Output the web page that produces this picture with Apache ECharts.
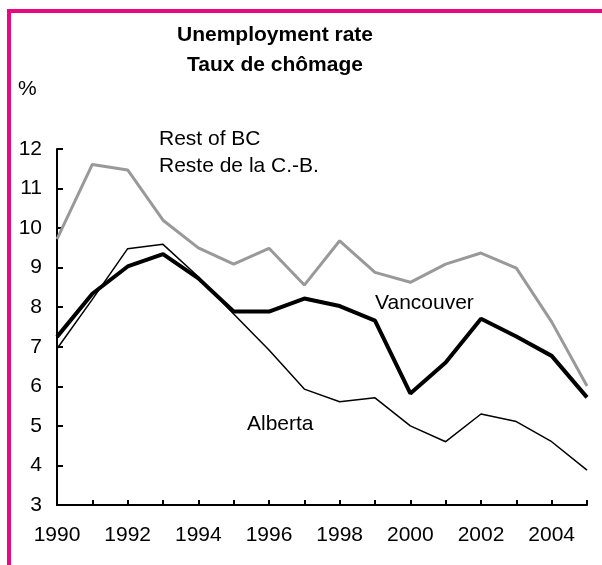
<!DOCTYPE html>
<html lang="en">
<head>
    <meta charset="UTF-8">
    <title>Unemployment rate</title>
    <script src="https://cdn.jsdelivr.net/npm/echarts@6/dist/echarts.min.js"></script>
    <style>
        html, body { margin: 0; padding: 0; background: #fff; }
        #chart { width: 602px; height: 565px; }
    </style>
</head>
<body>
<div id="chart"></div>
<script type="text/javascript">
    // data
    var years = ['1990', '1991', '1992', '1993', '1994', '1995', '1996', '1997',
        '1998', '1999', '2000', '2001', '2002', '2003', '2004', '2005'];
    var restOfBC = [9.72, 11.61, 11.47, 10.2, 9.5, 9.09, 9.49, 8.56, 9.68, 8.88, 8.63, 9.09, 9.37, 8.99, 7.63, 6.01];
    var vancouver = [7.25, 8.34, 9.03, 9.34, 8.73, 7.89, 7.89, 8.22, 8.03, 7.66, 5.82, 6.6, 7.71, 7.26, 6.77, 5.72];
    var alberta = [6.95, 8.2, 9.48, 9.59, 8.77, 7.83, 6.92, 5.93, 5.61, 5.71, 5.0, 4.6, 5.3, 5.11, 4.6, 3.88];

    var font = 'Liberation Sans, Arial, sans-serif';
    var pink = '#e6097f';

    function label(text, x, y, bold) {
        return {
            type: 'text', x: x, y: y,
            style: {
                text: text, fill: '#000', font: (bold ? 'bold ' : '') + '21px ' + font,
                textAlign: 'left', textVerticalAlign: 'middle'
            }
        };
    }

    var option = {
        animation: false,
        grid: { left: 57, right: 15, top: 149, bottom: 60 },
        xAxis: {
            type: 'category',
            data: years,
            boundaryGap: false,
            axisLine: { lineStyle: { color: '#000', width: 2 } },
            axisTick: { inside: true, length: 5, interval: 0, lineStyle: { color: '#000', width: 2 } },
            axisLabel: { interval: 1, margin: 20, color: '#000', fontSize: 21, fontFamily: font }
        },
        yAxis: {
            type: 'value',
            min: 3, max: 12, interval: 1,
            splitLine: { show: false },
            axisLine: { show: true, lineStyle: { color: '#000', width: 2 } },
            axisTick: { show: true, inside: true, length: 6, lineStyle: { color: '#000', width: 2 } },
            axisLabel: { margin: 15, color: '#000', fontSize: 21, fontFamily: font }
        },
        series: [
            {
                name: 'Rest of BC', type: 'line', data: restOfBC, symbol: 'none',
                lineStyle: { color: '#999999', width: 3 }
            },
            {
                name: 'Alberta', type: 'line', data: alberta, symbol: 'none',
                lineStyle: { color: '#000', width: 1.5 }
            },
            {
                name: 'Vancouver', type: 'line', data: vancouver, symbol: 'none',
                lineStyle: { color: '#000', width: 4 }
            }
        ],
        graphic: [
            // pink frame (top and left only)
            { type: 'rect', shape: { x: 7, y: 9, width: 595, height: 4 }, style: { fill: pink } },
            { type: 'rect', shape: { x: 7, y: 9, width: 4, height: 556 }, style: { fill: pink } },
            {
                type: 'text', x: 275, y: 35,
                style: { text: 'Unemployment rate', fill: '#000', font: 'bold 21px ' + font, textAlign: 'center', textVerticalAlign: 'middle' }
            },
            {
                type: 'text', x: 275, y: 65,
                style: { text: 'Taux de chômage', fill: '#000', font: 'bold 21px ' + font, textAlign: 'center', textVerticalAlign: 'middle' }
            },
            label('%', 18, 89),
            label('Rest of BC', 159, 139),
            label('Reste de la C.-B.', 159, 166),
            label('Vancouver', 375, 303),
            label('Alberta', 247, 424)
        ]
    };

    var chart = echarts.init(document.getElementById('chart'));
    chart.setOption(option);
</script>
</body>
</html>
